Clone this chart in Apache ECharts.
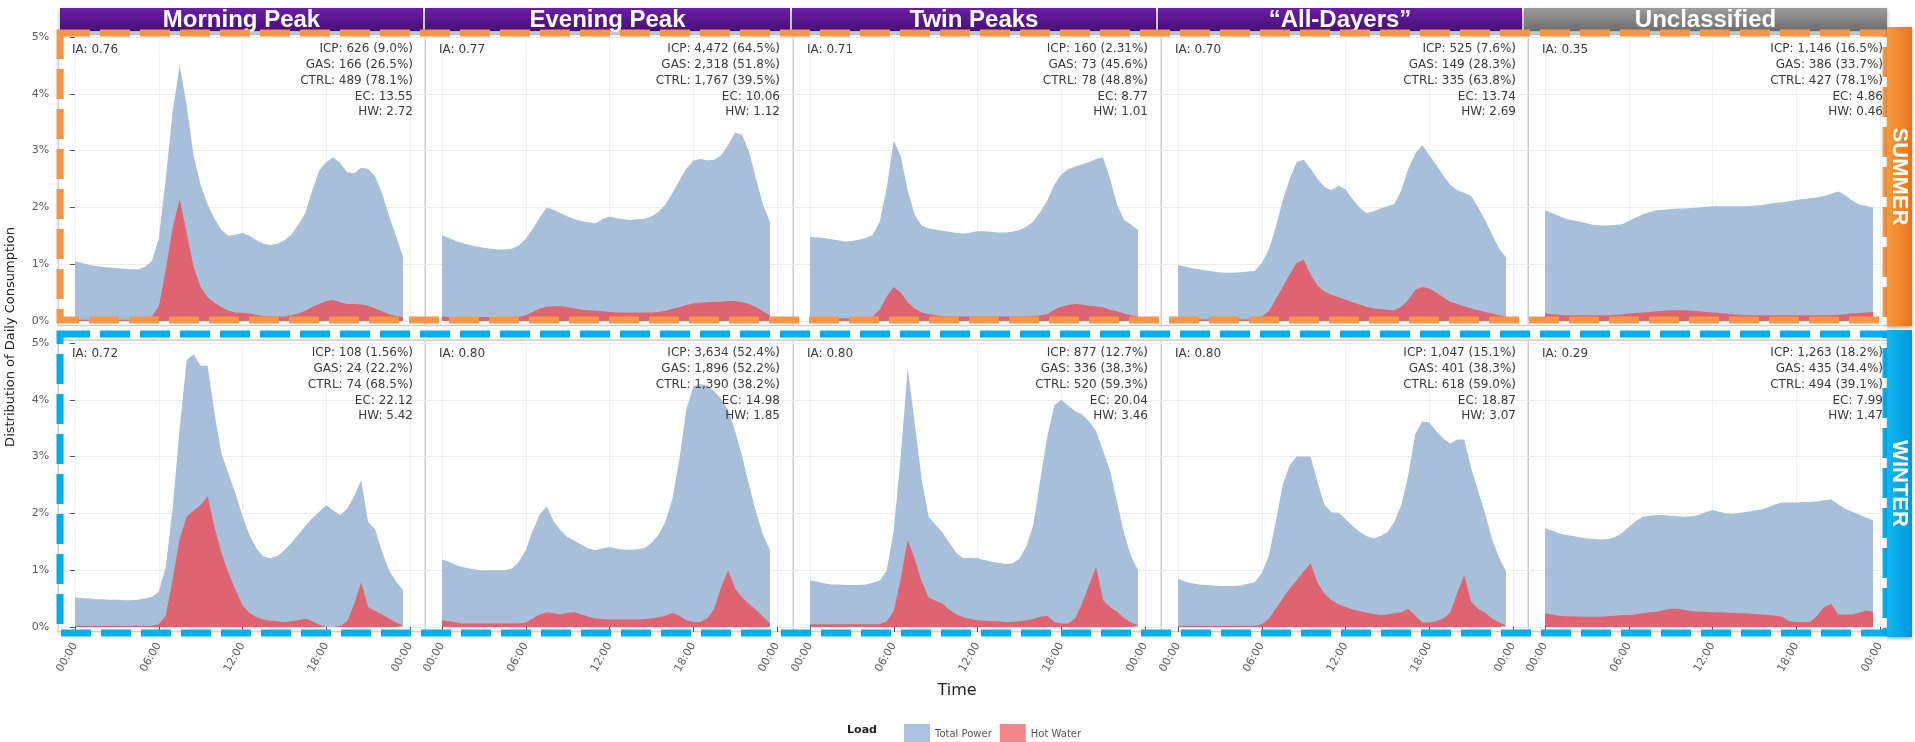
<!DOCTYPE html>
<html>
<head>
<meta charset="utf-8">
<script src="https://cdn.jsdelivr.net/npm/echarts@6/dist/echarts.min.js"></script>
<style>
  html, body { margin: 0; padding: 0; background: #fff; }
  #chart { width: 1915px; height: 742px; }
</style>
</head>
<body>
<div id="chart"></div>
<script>
// half-hourly readings, hours from midnight
const HOURS = [0,0.5,1,1.5,2,2.5,3,3.5,4,4.5,5,5.5,6,6.5,7,7.5,8,8.5,9,9.5,10,10.5,11,11.5,
  12,12.5,13,13.5,14,14.5,15,15.5,16,16.5,17,17.5,18,18.5,19,19.5,20,20.5,21,21.5,22,22.5,23,23.5];

const PATTERNS = ['Morning Peak', 'Evening Peak', 'Twin Peaks', '\u201CAll-Dayers\u201D', 'Unclassified'];
const SEASONS = ['SUMMER', 'WINTER'];
const X_TICKS = [0, 6, 12, 18, 24];
const X_TICK_LABELS = ['00:00', '06:00', '12:00', '18:00', '00:00'];
const Y_TICKS = [0, 1, 2, 3, 4, 5];

// summer, % of daily consumption
const MORNING_SUMMER_TOTAL = [1.05,1.02,0.99,0.97,0.95,0.94,0.93,0.92,0.91,0.91,0.95,1.05,1.45,2.5,3.7,4.5,3.8,2.9,2.4,2.05,1.8,1.6,1.5,1.52,1.55,1.5,1.42,1.36,1.34,1.36,1.42,1.52,1.7,1.9,2.3,2.65,2.8,2.88,2.78,2.62,2.6,2.7,2.68,2.55,2.25,1.85,1.5,1.13];
const MORNING_SUMMER_HW = [0.02,0.02,0.02,0.02,0.02,0.02,0.02,0.02,0.02,0.02,0.02,0.08,0.25,0.9,1.65,2.15,1.55,0.95,0.6,0.42,0.32,0.24,0.18,0.15,0.14,0.13,0.11,0.09,0.08,0.08,0.08,0.1,0.13,0.18,0.25,0.3,0.35,0.37,0.33,0.3,0.3,0.29,0.27,0.22,0.17,0.12,0.09,0.07];
const EVENING_SUMMER_TOTAL = [1.51,1.46,1.41,1.37,1.34,1.31,1.29,1.27,1.26,1.26,1.27,1.33,1.45,1.62,1.82,2.0,1.96,1.9,1.84,1.79,1.76,1.74,1.72,1.79,1.84,1.81,1.79,1.78,1.79,1.8,1.84,1.92,2.05,2.25,2.47,2.68,2.82,2.85,2.83,2.84,2.92,3.1,3.32,3.28,2.98,2.5,2.05,1.74];
const EVENING_SUMMER_HW = [0.08,0.07,0.07,0.07,0.07,0.07,0.07,0.07,0.07,0.07,0.07,0.07,0.1,0.16,0.22,0.25,0.26,0.26,0.24,0.22,0.2,0.19,0.18,0.17,0.16,0.15,0.15,0.15,0.15,0.15,0.15,0.16,0.18,0.21,0.24,0.28,0.31,0.32,0.33,0.34,0.34,0.35,0.35,0.33,0.3,0.24,0.17,0.1];
const TWIN_SUMMER_TOTAL = [1.48,1.47,1.46,1.44,1.42,1.4,1.41,1.43,1.46,1.52,1.75,2.35,3.18,2.9,2.3,1.87,1.68,1.63,1.61,1.59,1.57,1.55,1.54,1.56,1.58,1.58,1.57,1.56,1.56,1.57,1.6,1.66,1.75,1.92,2.12,2.4,2.58,2.67,2.72,2.76,2.8,2.85,2.88,2.5,2.05,1.78,1.7,1.6];
const TWIN_SUMMER_HW = [0.05,0.05,0.05,0.05,0.05,0.05,0.05,0.05,0.05,0.08,0.2,0.43,0.6,0.5,0.33,0.22,0.15,0.12,0.1,0.09,0.08,0.08,0.08,0.08,0.08,0.08,0.08,0.08,0.08,0.08,0.08,0.08,0.09,0.1,0.12,0.2,0.25,0.28,0.3,0.29,0.27,0.26,0.24,0.2,0.17,0.13,0.1,0.08];
const ALL_SUMMER_TOTAL = [0.98,0.96,0.93,0.91,0.89,0.87,0.86,0.85,0.85,0.86,0.87,0.88,1.02,1.25,1.65,2.12,2.5,2.8,2.84,2.68,2.5,2.36,2.3,2.38,2.32,2.15,2.0,1.9,1.93,1.98,2.02,2.06,2.3,2.68,2.95,3.1,2.92,2.75,2.56,2.4,2.3,2.26,2.2,2.0,1.78,1.52,1.28,1.12];
const ALL_SUMMER_HW = [0.03,0.03,0.03,0.03,0.03,0.03,0.03,0.03,0.03,0.03,0.03,0.03,0.08,0.17,0.38,0.6,0.82,1.02,1.08,0.82,0.62,0.52,0.46,0.42,0.38,0.33,0.29,0.25,0.22,0.21,0.2,0.19,0.25,0.37,0.55,0.6,0.57,0.5,0.42,0.34,0.3,0.26,0.22,0.19,0.16,0.13,0.1,0.08];
const UNCL_SUMMER_TOTAL = [1.95,1.9,1.85,1.8,1.77,1.75,1.72,1.69,1.68,1.68,1.69,1.7,1.76,1.82,1.88,1.92,1.95,1.96,1.97,1.98,1.98,1.99,2.0,2.01,2.02,2.02,2.02,2.02,2.02,2.02,2.03,2.04,2.06,2.08,2.09,2.11,2.13,2.15,2.16,2.18,2.2,2.24,2.28,2.22,2.12,2.05,2.03,2.0];
const UNCL_SUMMER_HW = [0.13,0.12,0.11,0.1,0.1,0.1,0.1,0.1,0.1,0.1,0.11,0.12,0.13,0.14,0.15,0.16,0.17,0.18,0.19,0.19,0.19,0.18,0.17,0.16,0.15,0.14,0.13,0.12,0.11,0.1,0.1,0.1,0.1,0.1,0.1,0.1,0.1,0.1,0.1,0.1,0.1,0.1,0.11,0.12,0.13,0.14,0.15,0.16];

// winter
const MORNING_WINTER_TOTAL = [0.52,0.51,0.5,0.49,0.49,0.48,0.48,0.47,0.47,0.48,0.5,0.53,0.62,1.05,2.1,3.5,4.7,4.8,4.6,4.6,3.75,3.05,2.7,2.35,1.95,1.62,1.38,1.24,1.21,1.25,1.35,1.48,1.63,1.78,1.92,2.03,2.15,2.05,1.97,2.08,2.3,2.59,1.85,1.72,1.32,1.0,0.8,0.65];
const MORNING_WINTER_HW = [0.02,0.02,0.02,0.02,0.02,0.02,0.02,0.02,0.02,0.02,0.02,0.02,0.05,0.2,0.85,1.55,1.94,2.05,2.15,2.3,1.75,1.3,0.95,0.65,0.38,0.25,0.17,0.13,0.11,0.1,0.09,0.1,0.12,0.15,0.1,0.04,0.0,0.0,0.02,0.1,0.4,0.79,0.35,0.28,0.22,0.15,0.08,0.03];
const EVENING_WINTER_TOTAL = [1.19,1.15,1.09,1.05,1.03,1.01,1.0,1.0,1.0,1.0,1.03,1.15,1.35,1.7,1.98,2.12,1.86,1.7,1.58,1.52,1.45,1.38,1.35,1.38,1.41,1.38,1.36,1.36,1.37,1.39,1.48,1.62,1.85,2.25,2.94,3.82,4.24,4.28,4.25,4.15,4.02,3.82,3.45,3.0,2.5,2.02,1.62,1.35];
const EVENING_WINTER_HW = [0.12,0.1,0.08,0.06,0.06,0.06,0.06,0.06,0.06,0.06,0.06,0.06,0.08,0.15,0.22,0.26,0.24,0.22,0.25,0.26,0.22,0.18,0.15,0.14,0.13,0.13,0.13,0.13,0.13,0.14,0.15,0.17,0.2,0.25,0.2,0.12,0.09,0.09,0.15,0.32,0.7,1.0,0.68,0.52,0.41,0.3,0.18,0.06];
const TWIN_WINTER_TOTAL = [0.82,0.8,0.77,0.75,0.75,0.74,0.74,0.74,0.75,0.78,0.82,1.0,1.7,3.0,4.56,3.6,2.6,1.94,1.8,1.66,1.48,1.3,1.21,1.22,1.21,1.18,1.15,1.13,1.11,1.12,1.2,1.42,1.8,2.6,3.35,3.9,4.0,3.9,3.8,3.74,3.62,3.45,3.1,2.75,2.2,1.65,1.25,1.0];
const TWIN_WINTER_HW = [0.05,0.05,0.05,0.05,0.05,0.05,0.05,0.05,0.05,0.05,0.05,0.1,0.29,0.85,1.53,1.2,0.8,0.52,0.46,0.41,0.3,0.22,0.17,0.14,0.12,0.11,0.1,0.1,0.09,0.09,0.1,0.12,0.14,0.18,0.2,0.09,0.06,0.06,0.15,0.42,0.75,1.06,0.47,0.35,0.27,0.16,0.08,0.03];
const ALL_WINTER_TOTAL = [0.85,0.8,0.77,0.75,0.74,0.73,0.72,0.72,0.72,0.73,0.76,0.79,0.95,1.25,1.85,2.5,2.85,3.0,3.0,3.0,2.55,2.15,2.02,2.01,1.9,1.78,1.68,1.6,1.56,1.6,1.67,1.85,2.15,2.68,3.4,3.62,3.6,3.45,3.32,3.23,3.3,3.3,2.8,2.4,2.0,1.55,1.22,0.98];
const ALL_WINTER_HW = [0.02,0.02,0.02,0.02,0.02,0.02,0.02,0.02,0.02,0.02,0.02,0.02,0.05,0.14,0.32,0.5,0.68,0.82,0.98,1.12,0.78,0.58,0.47,0.4,0.35,0.31,0.28,0.25,0.23,0.21,0.22,0.24,0.26,0.32,0.2,0.08,0.08,0.1,0.15,0.25,0.6,0.91,0.45,0.32,0.25,0.15,0.08,0.03];
const UNCL_WINTER_TOTAL = [1.74,1.7,1.65,1.62,1.6,1.58,1.56,1.55,1.54,1.55,1.58,1.65,1.76,1.86,1.94,1.96,1.97,1.97,1.96,1.95,1.94,1.95,1.97,2.02,2.06,2.03,2.0,1.99,2.01,2.03,2.05,2.07,2.11,2.16,2.19,2.19,2.19,2.2,2.2,2.21,2.23,2.25,2.16,2.08,2.03,1.98,1.93,1.88];
const UNCL_WINTER_HW = [0.24,0.22,0.2,0.19,0.19,0.18,0.18,0.18,0.18,0.19,0.2,0.21,0.21,0.22,0.24,0.26,0.27,0.3,0.32,0.32,0.3,0.28,0.27,0.27,0.26,0.26,0.25,0.25,0.24,0.24,0.23,0.22,0.21,0.2,0.18,0.1,0.09,0.09,0.09,0.2,0.35,0.41,0.22,0.22,0.22,0.25,0.29,0.27];

// panel annotations, one entry per pattern
const SUMMER_IA = ['0.76', '0.77', '0.71', '0.70', '0.35'];
const SUMMER_ICP = ['626 (9.0%)', '4,472 (64.5%)', '160 (2.31%)', '525 (7.6%)', '1,146 (16.5%)'];
const SUMMER_GAS = ['166 (26.5%)', '2,318 (51.8%)', '73 (45.6%)', '149 (28.3%)', '386 (33.7%)'];
const SUMMER_CTRL = ['489 (78.1%)', '1,767 (39.5%)', '78 (48.8%)', '335 (63.8%)', '427 (78.1%)'];
const SUMMER_EC = ['13.55', '10.06', '8.77', '13.74', '4.86'];
const SUMMER_HWV = ['2.72', '1.12', '1.01', '2.69', '0.46'];
const WINTER_IA = ['0.72', '0.80', '0.80', '0.80', '0.29'];
const WINTER_ICP = ['108 (1.56%)', '3,634 (52.4%)', '877 (12.7%)', '1,047 (15.1%)', '1,263 (18.2%)'];
const WINTER_GAS = ['24 (22.2%)', '1,896 (52.2%)', '336 (38.3%)', '401 (38.3%)', '435 (34.4%)'];
const WINTER_CTRL = ['74 (68.5%)', '1,390 (38.2%)', '520 (59.3%)', '618 (59.0%)', '494 (39.1%)'];
const WINTER_EC = ['22.12', '14.98', '20.04', '18.87', '7.99'];
const WINTER_HWV = ['5.42', '1.85', '3.46', '3.07', '1.47'];

const TOTALS = [
  [MORNING_SUMMER_TOTAL, EVENING_SUMMER_TOTAL, TWIN_SUMMER_TOTAL, ALL_SUMMER_TOTAL, UNCL_SUMMER_TOTAL],
  [MORNING_WINTER_TOTAL, EVENING_WINTER_TOTAL, TWIN_WINTER_TOTAL, ALL_WINTER_TOTAL, UNCL_WINTER_TOTAL]
];
const HOT_WATER = [
  [MORNING_SUMMER_HW, EVENING_SUMMER_HW, TWIN_SUMMER_HW, ALL_SUMMER_HW, UNCL_SUMMER_HW],
  [MORNING_WINTER_HW, EVENING_WINTER_HW, TWIN_WINTER_HW, ALL_WINTER_HW, UNCL_WINTER_HW]
];
const STATS = [
  { ia: SUMMER_IA, icp: SUMMER_ICP, gas: SUMMER_GAS, ctrl: SUMMER_CTRL, ec: SUMMER_EC, hw: SUMMER_HWV },
  { ia: WINTER_IA, icp: WINTER_ICP, gas: WINTER_GAS, ctrl: WINTER_CTRL, ec: WINTER_EC, hw: WINTER_HWV }
];

const TOTAL_COLOR = '#A8BFDA';
const HW_COLOR = '#DE6471';
const FONT = '"DejaVu Sans", sans-serif';

// layout: pixel of 00:00 per column, pixel of 0% per row
const X0 = [75, 442, 810, 1178, 1545];
const PX_PER_H = 335 / 24;
const X_MIN = -1.2, X_MAX = 25.2;
const Y0 = [321, 627];
const PX_PER_PCT = 56.8;
const Y_MIN = -0.08, Y_MAX = 5.05;

const chart = echarts.init(document.getElementById('chart'), null, { renderer: 'canvas' });

const grids = [], xAxes = [], yAxes = [], series = [];
for (let r = 0; r < 2; r++) {
  for (let c = 0; c < 5; c++) {
    const idx = r * 5 + c;
    grids.push({
      left: X0[c] + X_MIN * PX_PER_H,
      width: (X_MAX - X_MIN) * PX_PER_H,
      top: Y0[r] - Y_MAX * PX_PER_PCT,
      height: (Y_MAX - Y_MIN) * PX_PER_PCT,
      show: true,
      backgroundColor: '#fff',
      borderColor: '#cdcdcd',
      borderWidth: 1.5
    });
    xAxes.push({
      type: 'value',
      gridIndex: idx,
      min: X_MIN,
      max: X_MAX,
      offset: r === 1 ? 6 : 0,
      axisLine: { show: false },
      axisTick: { show: r === 1, customValues: X_TICKS, length: 5, lineStyle: { color: '#555' } },
      axisLabel: {
        show: r === 1,
        customValues: X_TICKS,
        rotate: 60,
        fontSize: 11,
        fontFamily: FONT,
        color: '#5a5a5a',
        margin: 6,
        formatter: v => X_TICK_LABELS[X_TICKS.indexOf(v)]
      },
      splitLine: { show: true, lineStyle: { color: '#f0f0f0', width: 1 } }
    });
    yAxes.push({
      type: 'value',
      gridIndex: idx,
      min: Y_MIN,
      max: Y_MAX,
      axisLine: { show: false },
      axisTick: { show: c === 0, customValues: Y_TICKS, length: 5, lineStyle: { color: '#555' } },
      axisLabel: {
        show: c === 0,
        customValues: Y_TICKS,
        fontSize: 11,
        fontFamily: FONT,
        color: '#5a5a5a',
        margin: 9,
        formatter: v => v + '%'
      },
      splitLine: { show: true, lineStyle: { color: '#ececec', width: 1 } }
    });
    series.push({
      name: 'Total Power',
      type: 'line',
      xAxisIndex: idx,
      yAxisIndex: idx,
      data: HOURS.map((h, i) => [h, TOTALS[r][c][i]]),
      showSymbol: false,
      lineStyle: { width: 0 },
      itemStyle: { color: TOTAL_COLOR },
      areaStyle: { color: TOTAL_COLOR, opacity: 1 },
      silent: true
    });
    series.push({
      name: 'Hot Water',
      type: 'line',
      xAxisIndex: idx,
      yAxisIndex: idx,
      data: HOURS.map((h, i) => [h, HOT_WATER[r][c][i]]),
      showSymbol: false,
      lineStyle: { width: 0 },
      itemStyle: { color: HW_COLOR },
      areaStyle: { color: HW_COLOR, opacity: 1 },
      silent: true
    });
  }
}

const graphics = [];
// facet headers
const HEAD_X = [60, 425, 792, 1158, 1524];
const HEAD_W = [363, 365, 364, 364, 363];
PATTERNS.forEach((name, c) => {
  const grey = c === 4;
  graphics.push({
    type: 'rect', z: 50,
    shape: { x: HEAD_X[c], y: 8, width: HEAD_W[c], height: 23 },
    style: {
      fill: new echarts.graphic.LinearGradient(0, 0, 0, 1, grey
        ? [{ offset: 0, color: '#9c9c9c' }, { offset: 1, color: '#6c6c6c' }]
        : [{ offset: 0, color: '#6c1ea3' }, { offset: 1, color: '#470f79' }]),
      shadowBlur: 4, shadowColor: 'rgba(0,0,0,0.35)', shadowOffsetY: 2
    }
  });
  graphics.push({
    type: 'text', z: 51,
    x: HEAD_X[c] + HEAD_W[c] / 2, y: 20,
    style: {
      text: name, fill: '#fff', font: 'bold 24px "Liberation Sans", Arial, sans-serif',
      align: 'center', verticalAlign: 'middle'
    }
  });
});

// season dashed frames
graphics.push({
  type: 'rect', z: 60,
  shape: { x: 60, y: 33, width: 1826, height: 287 },
  style: { fill: 'none', stroke: '#F79646', lineWidth: 7, lineDash: [30, 10] }
});
graphics.push({
  type: 'rect', z: 60,
  shape: { x: 60, y: 334, width: 1826, height: 299 },
  style: { fill: 'none', stroke: '#00AEEF', lineWidth: 7, lineDash: [30, 10] }
});

// season strips on the right
const STRIP = [
  { y: 27, h: 299, c0: '#f79a3c', c1: '#e8731a' },
  { y: 330, h: 307, c0: '#12b6f2', c1: '#0097d8' }
];
SEASONS.forEach((s, r) => {
  graphics.push({
    type: 'rect', z: 70,
    shape: { x: 1887, y: STRIP[r].y, width: 25, height: STRIP[r].h },
    style: {
      fill: new echarts.graphic.LinearGradient(0, 0, 1, 0, [
        { offset: 0, color: STRIP[r].c0 }, { offset: 1, color: STRIP[r].c1 }]),
      shadowBlur: 3, shadowColor: 'rgba(0,0,0,0.3)', shadowOffsetY: 2
    }
  });
  graphics.push({
    type: 'text', z: 71,
    x: 1899.5, y: STRIP[r].y + STRIP[r].h / 2, rotation: -Math.PI / 2,
    style: {
      text: s, fill: '#fff', font: 'bold 22px "Liberation Sans", Arial, sans-serif',
      align: 'center', verticalAlign: 'middle'
    }
  });
});

// panel annotations
const TXT_TOP = [49, 353];
for (let r = 0; r < 2; r++) {
  for (let c = 0; c < 5; c++) {
    const st = STATS[r];
    graphics.push({
      type: 'text', z: 40,
      x: X0[c] - 3, y: TXT_TOP[r] + 1,
      style: { text: 'IA: ' + st.ia[c], fill: '#3a3a3a', font: '12px ' + FONT, verticalAlign: 'middle' }
    });
    const lines = ['ICP: ' + st.icp[c], 'GAS: ' + st.gas[c], 'CTRL: ' + st.ctrl[c], 'EC: ' + st.ec[c], 'HW: ' + st.hw[c]];
    lines.forEach((t, k) => {
      graphics.push({
        type: 'text', z: 40,
        x: X0[c] + 338, y: TXT_TOP[r] + k * 15.8,
        style: { text: t, fill: '#3a3a3a', font: '12px ' + FONT, align: 'right', verticalAlign: 'middle' }
      });
    });
  }
}

// axis titles and legend title
graphics.push({
  type: 'text', z: 40, x: 11, y: 337, rotation: Math.PI / 2,
  style: { text: 'Distribution of Daily Consumption', fill: '#222', font: '13px ' + FONT, align: 'center', verticalAlign: 'middle' }
});
graphics.push({
  type: 'text', z: 40, x: 957, y: 691,
  style: { text: 'Time', fill: '#222', font: '16px ' + FONT, align: 'center', verticalAlign: 'middle' }
});
graphics.push({
  type: 'text', z: 40, x: 862, y: 730,
  style: { text: 'Load', fill: '#222', font: 'bold 11px ' + FONT, align: 'center', verticalAlign: 'middle' }
});

chart.setOption({
  animation: false,
  backgroundColor: '#fff',
  grid: grids,
  xAxis: xAxes,
  yAxis: yAxes,
  series: series,
  legend: {
    left: 899,
    top: 719,
    icon: 'rect',
    itemWidth: 26,
    itemHeight: 21,
    itemGap: 8,
    textStyle: { fontSize: 10, fontFamily: FONT, color: '#555' },
    data: [
      { name: 'Total Power', itemStyle: { color: '#A9C0DE' } },
      { name: 'Hot Water', itemStyle: { color: '#F2878B' } }
    ]
  },
  graphic: graphics
});
</script>
</body>
</html>
